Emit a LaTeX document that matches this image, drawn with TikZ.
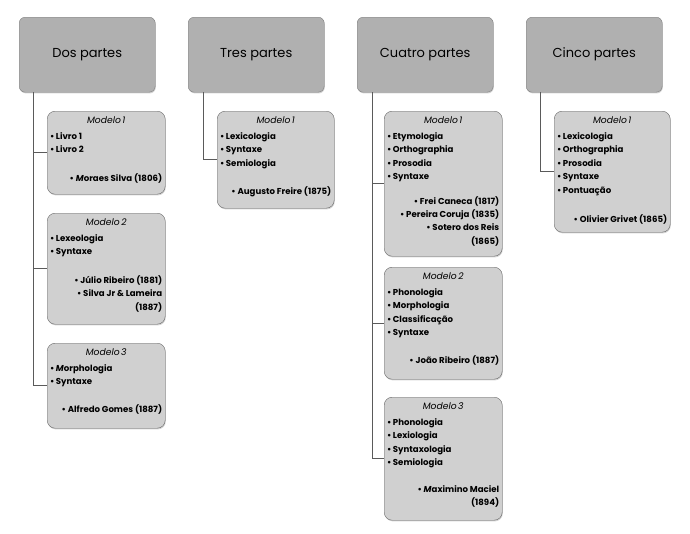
\documentclass[tikz,border=0pt]{standalone}
\usepackage{fontspec}
\setmainfont{Poppins}
\usetikzlibrary{positioning, shadows}
\definecolor{parte_fill}{RGB}{176, 176, 176}
\definecolor{parte_line}{RGB}{125, 125, 125}
\definecolor{modelo_fill}{RGB}{208, 208, 208}
\definecolor{modelo_line}{RGB}{105, 105, 105}
\definecolor{tronco}{RGB}{90, 90, 90}

\newcommand{\ficha}[3][112pt]{\parbox[c][#2pt][t]{#1}{#3}}
\newcommand{\modelo}[1]{{\centering\itshape\mdseries\fontsize{9.2}{13.4}\selectfont Modelo\,#1\par}\vspace{2.5pt}}
\newcommand{\tema}[1]{\textbullet\,#1\par}
\newcommand{\espaco}[1][15pt]{\vspace{#1}}
\newcommand{\autor}[1]{{\raggedleft\textbullet\ #1\par}}

\begin{document}
\begin{tikzpicture}[x=1pt, y=-1pt,
    parte/.style={draw=parte_line, fill=parte_fill, rounded corners=6pt,
      minimum width=136pt, minimum height=75pt, anchor=north west,
      font=\fontsize{13}{15}\selectfont,
      drop shadow={shadow xshift=0.6pt, shadow yshift=-1.2pt, opacity=0.35}},
    modelo/.style={draw=modelo_line, fill=modelo_fill, rounded corners=8pt,
      inner xsep=3pt, inner ysep=5.5pt, anchor=north west,
      font=\fontsize{8.6}{13.4}\selectfont\bfseries,
      drop shadow={shadow xshift=0.6pt, shadow yshift=-1.2pt, opacity=0.35}},
    rama/.style={draw=tronco, line width=0.9pt}]
  \useasboundingbox (0,0) rectangle (690,533);

  % --- Cabeças ---
  \node[parte] (dos) at (19,17) {Dos partes};
  \node[parte] (tres) at (188,17) {Tres partes};
  \node[parte] (cuatro) at (357,17) {Cuatro partes};
  \node[parte] (cinco) at (526,17) {Cinco partes};

  % --- Dos partes ---
  \node[modelo] (dos1) at (47,111) {\ficha{72}{\modelo{1}\tema{Livro 1}\tema{Livro 2}\espaco
     \autor{\textit{M}oraes Silva (1806)}}};
  \node[modelo] (dos2) at (47,213) {\ficha{100}{\modelo{2}\tema{Lexeologia}\tema{Syntaxe}\espaco
     \autor{Júlio Ribeiro (1881)}\autor{Silva Jr \& Lameira\\(1887)}}};
  \node[modelo] (dos3) at (47,343) {\ficha{74}{\modelo{3}\tema{\textit{M}orphologia}\tema{Syntaxe}\espaco[14pt]
     \autor{Alfredo Gomes (1887)}}};

  % --- Tres partes ---
  \node[modelo] (tres1) at (217,111) {\ficha[111pt]{86}{\modelo{1}\tema{Lexicologia}\tema{Syntaxe}\tema{Semiologia}\espaco
     \autor{Augusto Freire (1875)}}};

  % --- Cuatro partes ---
  \node[modelo] (cuatro1) at (384,111) {\ficha{134}{\modelo{1}\tema{Etymologia}\tema{Orthographia}\tema{Prosodia}\tema{Syntaxe}\espaco[11pt]
     \autor{Frei Caneca (1817)}\autor{Pereira Coruja (1835)}\autor{Sotero dos Reis\\(1865)}}};
  \node[modelo] (cuatro2) at (384,267) {\ficha{101}{\modelo{2}\tema{Phonologia}\tema{Morphologia}\tema{Classificação}\tema{Syntaxe}\espaco[14pt]
     \autor{João Ribeiro (1887)}}};
  \node[modelo] (cuatro3) at (384,397) {\ficha{112}{\modelo{3}\tema{Phonologia}\tema{Lexiologia}\tema{Syntaxologia}\tema{Semiologia}\espaco[13pt]
     \autor{\textit{M}aximino Maciel\\(1894)}}};

  % --- Cinco partes ---
  \node[modelo] (cinco1) at (554,111) {\ficha[110pt]{110}{\modelo{1}\tema{Lexicologia}\tema{Orthographia}\tema{Prosodia}\tema{Syntaxe}\tema{Pontuação}\espaco[16pt]
     \autor{Olivier Grivet (1865)}}};

  % --- Ramos ---
  \foreach \m in {dos1,dos2,dos3}
    \draw[rama] ([xshift=14pt]dos.south west) |- (\m.west);
  \draw[rama] ([xshift=15pt]tres.south west) |- (tres1.west);
  \foreach \m in {cuatro1,cuatro2,cuatro3}
    \draw[rama] ([xshift=15pt]cuatro.south west) |- (\m.west);
  \draw[rama] ([xshift=14pt]cinco.south west) |- (cinco1.west);
\end{tikzpicture}
\end{document}
